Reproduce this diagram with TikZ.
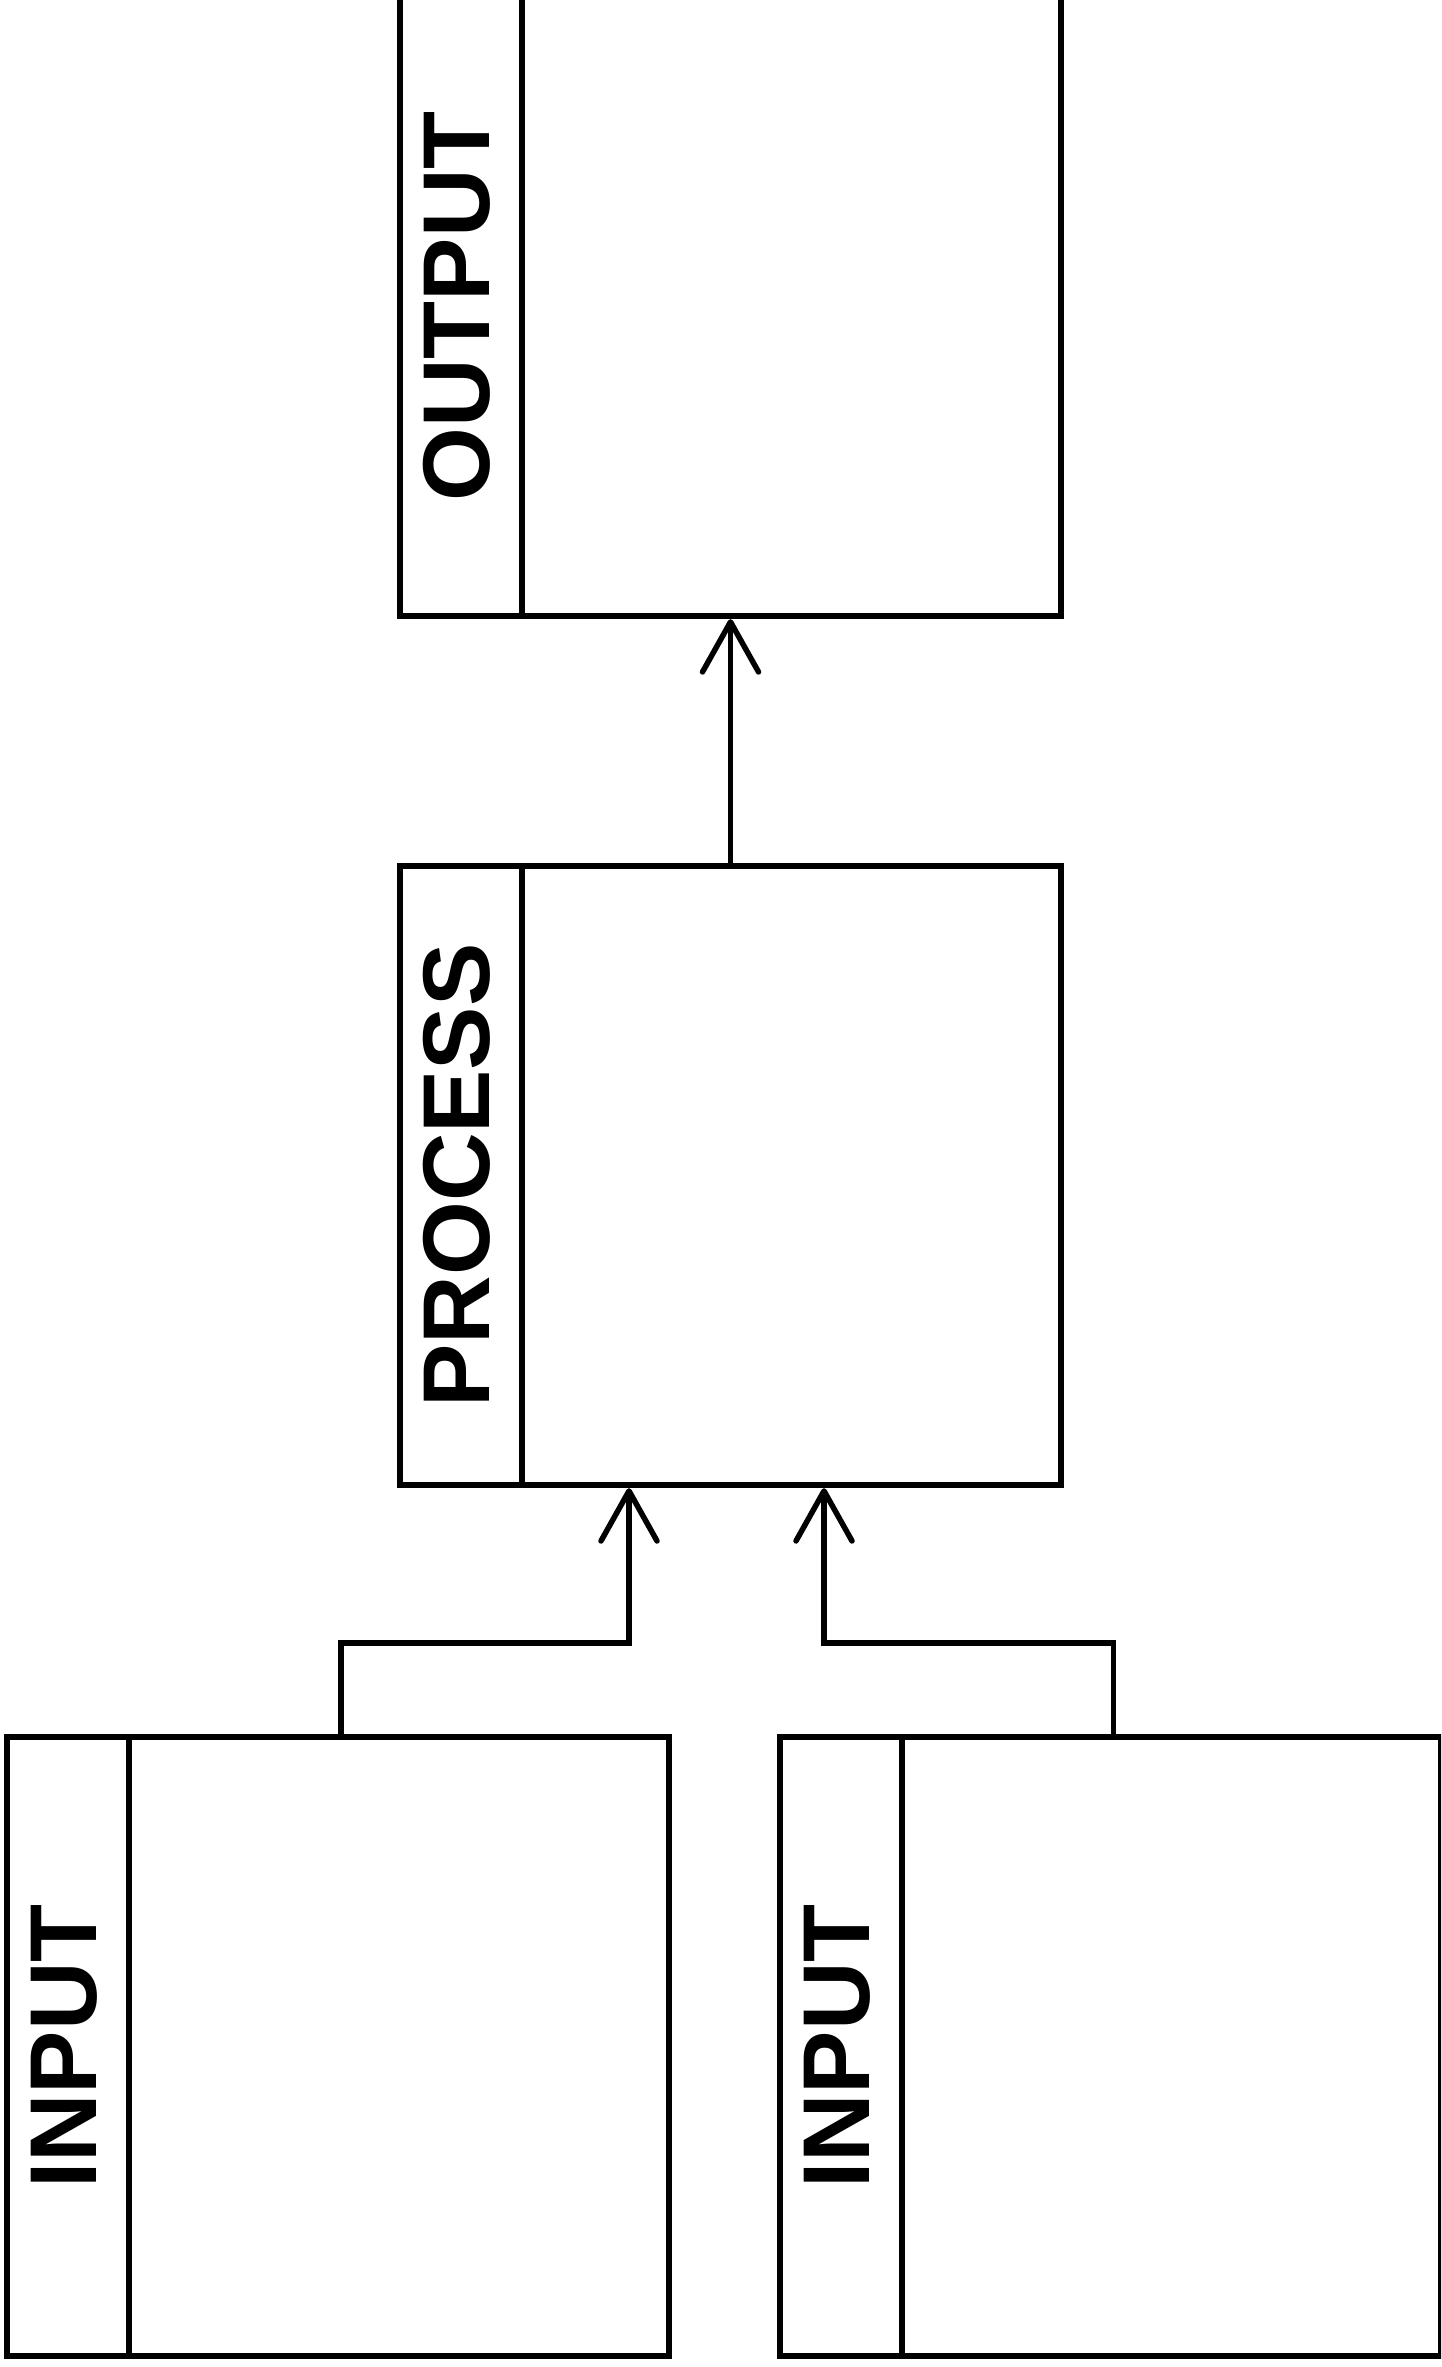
\documentclass[tikz,border=0pt]{standalone}
\usepackage{graphicx}
\usepackage{fontspec}
\setmainfont{Liberation Sans}
\usepackage{tikz}
\usetikzlibrary{arrows.meta}

\tikzset{
	box/.style={draw, line width=0.06cm, minimum width=6.61cm, minimum height=6.19cm, inner sep=0pt},
	lane/.style={draw, line width=0.06cm, minimum width=1.22cm, minimum height=6.19cm, inner sep=0pt, anchor=north west,
		font=\fontsize{27pt}{32pt}\selectfont\bfseries, execute at end node={\hspace{0.08cm}}},
	flow/.style={line width=0.055cm, -{Straight Barb[length=0.5cm, width=0.56cm, round]}}
}

\begin{document}
\begin{tikzpicture}[x=0.01cm, y=-0.01cm]
	%\draw [help lines] (0,0) grid (1441,2367);
	\useasboundingbox (0,0) rectangle (1441,2367);
	\clip (0,0) rectangle (1441,2367);
	
	%OUTPUT
	\node[box] (outbox) at (730.5,306.5) {};
	\node[lane] (outlane) at (outbox.north west) {\rotatebox{90}{OUTPUT}};
	
	%PROCESS
	\node[box] (procbox) at (730.5,1175.5) {};
	\node[lane] (proclane) at (procbox.north west) {\rotatebox{90}{PROCESS}};
	
	%INPUT
	\node[box] (inlbox) at (338,2046.5) {};
	\node[lane] (inllane) at (inlbox.north west) {\rotatebox{90}{INPUT}};
	\node[box] (inrbox) at (1110.5,2046.5) {};
	\node[lane] (inrlane) at (inrbox.north west) {\rotatebox{90}{INPUT}};
	
	%frecce
	\coordinate (bendl) at (629,1643);
	\coordinate (bendr) at (824,1643);
	\draw[flow] ([xshift=0.03cm]inlbox.north) |- (bendl) -- (bendl |- procbox.south);
	\draw[flow] ([xshift=0.03cm]inrbox.north) |- (bendr) -- (bendr |- procbox.south);
	\draw[flow] (procbox.north) -- (outbox.south);
	
\end{tikzpicture}
\end{document}
